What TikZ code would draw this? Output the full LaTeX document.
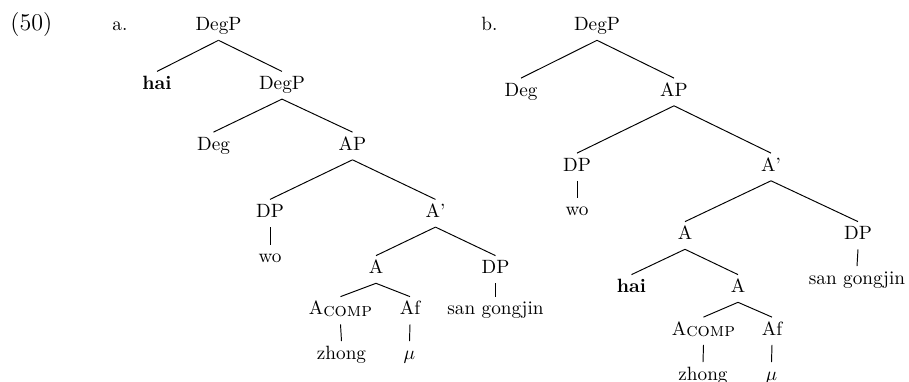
\documentclass[tikz,border=0pt]{standalone}
\begin{document}
\begin{tikzpicture}[x={(0.52pt,0)},y={(0,-0.52pt)},
  tn/.style={anchor=base,inner xsep=1pt,inner ysep=2.2pt,text height=6.9pt,text depth=2.7pt},
  lab/.style={anchor=base west,inner sep=0pt},
  br/.style={line width=0.5pt}]
\useasboundingbox (0,0) rectangle (909,382);
\node[lab,font=\fontsize{12.5}{15}\selectfont] (ex) at (10,30.5) {(50)};
\node[lab] (la) at (112,30.5) {a.};
\node[lab] (lb) at (481,30.5) {b.};
% tree a
\node[tn] (a1) at (218.5,30.5) {DegP};
\node[tn] (a2) at (157,89.3) {\textbf{hai}};
\node[tn] (a3) at (282,89.3) {DegP};
\node[tn] (a4) at (213.5,150) {Deg};
\node[tn] (a5) at (352.5,150) {AP};
\node[tn] (a6) at (270,217.3) {DP};
\node[tn] (a7) at (435.5,217.3) {A'};
\node[tn] (a8) at (270,262.5) {wo};
\node[tn] (a9) at (376,273.5) {A};
\node[tn] (a10) at (495.5,273.5) {DP};
\node[tn] (a11) at (340.5,314.5) {A\raisebox{-0.8pt}{\textsc{comp}}};
\node[tn] (a12) at (410,314.5) {Af};
\node[tn] (a13) at (495.5,314.5) {san gongjin};
\node[tn] (a14) at (341.5,359) {zhong};
\node[tn] (a15) at (409.5,359) {$\mu$};
\draw[br] (a1.south) -- (a2.north);
\draw[br] (a1.south) -- (a3.north);
\draw[br] (a3.south) -- (a4.north);
\draw[br] (a3.south) -- (a5.north);
\draw[br] (a5.south) -- (a6.north);
\draw[br] (a5.south) -- (a7.north);
\draw[br] (a6.south) -- (a8.north);
\draw[br] (a7.south) -- (a9.north);
\draw[br] (a7.south) -- (a10.north);
\draw[br] (a9.south) -- (a11.north);
\draw[br] (a9.south) -- (a12.north);
\draw[br] (a10.south) -- (a13.north);
\draw[br] (a11.south) -- (a14.north);
\draw[br] (a12.south) -- (a15.north);
% tree b
\node[tn] (b1) at (597,30.5) {DegP};
\node[tn] (b2) at (521,96) {Deg};
\node[tn] (b3) at (674,96) {AP};
\node[tn] (b4) at (577,171) {DP};
\node[tn] (b5) at (771,171) {A'};
\node[tn] (b6) at (577,215.5) {wo};
\node[tn] (b7) at (685,239.5) {A};
\node[tn] (b8) at (858,239.5) {DP};
\node[tn] (b9) at (857,284) {san gongjin};
\node[tn] (b10) at (631.5,292.5) {\textbf{hai}};
\node[tn] (b11) at (738,292.5) {A};
\node[tn] (b12) at (703.5,335) {A\raisebox{-0.8pt}{\textsc{comp}}};
\node[tn] (b13) at (772,335) {Af};
\node[tn] (b14) at (703,380) {zhong};
\node[tn] (b15) at (771.5,380) {$\mu$};
\draw[br] (b1.south) -- (b2.north);
\draw[br] (b1.south) -- (b3.north);
\draw[br] (b3.south) -- (b4.north);
\draw[br] (b3.south) -- (b5.north);
\draw[br] (b4.south) -- (b6.north);
\draw[br] (b5.south) -- (b7.north);
\draw[br] (b5.south) -- (b8.north);
\draw[br] (b8.south) -- (b9.north);
\draw[br] (b7.south) -- (b10.north);
\draw[br] (b7.south) -- (b11.north);
\draw[br] (b11.south) -- (b12.north);
\draw[br] (b11.south) -- (b13.north);
\draw[br] (b12.south) -- (b14.north);
\draw[br] (b13.south) -- (b15.north);
\end{tikzpicture}
\end{document}
